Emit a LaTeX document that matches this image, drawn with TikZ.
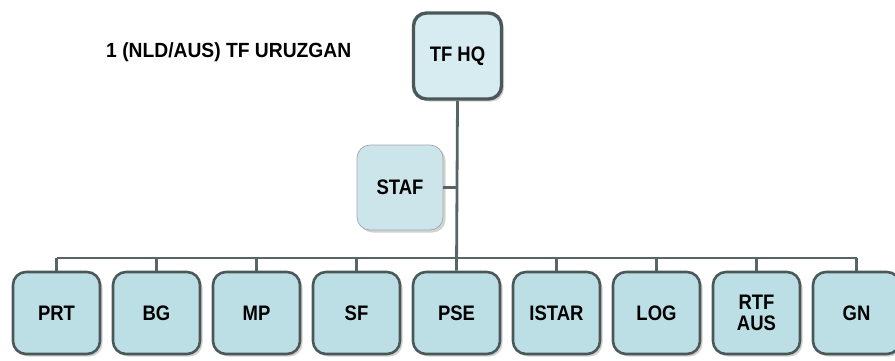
\documentclass[tikz,border=0pt]{standalone}
\usepackage{fontspec}
\setmainfont{Liberation Sans}
\newfontfamily\boxfont[FakeStretch=0.88]{Liberation Sans}
\newfontfamily\titlefont[FakeStretch=0.94]{Liberation Sans}
\usetikzlibrary{shadows}
\definecolor{boxfill}{HTML}{BCDFE5}
\definecolor{hqfill}{HTML}{D6ECF0}
\definecolor{staffill}{HTML}{CCE5EA}
\definecolor{edge}{HTML}{4B5858}
\definecolor{wire}{HTML}{586565}
\begin{document}
\begin{tikzpicture}[x=1pt,y=-1pt,
  unit/.style={draw=edge, line width=2.6pt, fill=boxfill, rounded corners=13pt,
    minimum width=87pt, minimum height=82pt, inner sep=0pt, align=center,
    font=\boxfont\bfseries\fontsize{21}{21}\selectfont,
    drop shadow={opacity=0.35, shadow xshift=2.5pt, shadow yshift=-2.5pt}},
  hq/.style={unit, fill=hqfill, line width=3.4pt, minimum width=88pt, minimum height=86pt},
  staf/.style={unit, fill=staffill, draw=black!35, line width=0.7pt, minimum width=86pt, minimum height=85pt},
  wireline/.style={draw=wire, line width=2.8pt}]
\useasboundingbox (0,0) rectangle (895,360);
\clip (0,0) rectangle (895,360);
\fill[white] (0,0) rectangle (895,360);
\node[anchor=west, inner sep=0pt, font=\titlefont\bfseries\fontsize{20.5}{22}\selectfont] (title) at (106,52) {1 (NLD/AUS) TF URUZGAN};
\node[hq] (hq) at (457.5,56) {TF HQ};
\node[staf] (staf) at (400,187.5) {STAF};
\foreach \name/\lab [count=\i from 0] in {prt/PRT, bg/BG, mp/MP, sf/SF, pse/PSE, istar/ISTAR, log/LOG, rtf/{RTF\\AUS}, gn/GN} {
  \node[unit] (\name) at ({56.5+100*\i},313) {\lab};
}
\coordinate (busL) at (56.5,258);
\coordinate (busR) at (856.5,258);
\draw[wireline] (hq.south) -- (pse.north);
\draw[wireline] (staf.east) -- (hq.south |- staf.east);
\draw[wireline] (busL) -- (busR);
\foreach \name in {prt, bg, mp, sf, istar, log, rtf, gn} {
  \draw[wireline] (\name.north) -- (\name.north |- busL);
}
\end{tikzpicture}
\end{document}
